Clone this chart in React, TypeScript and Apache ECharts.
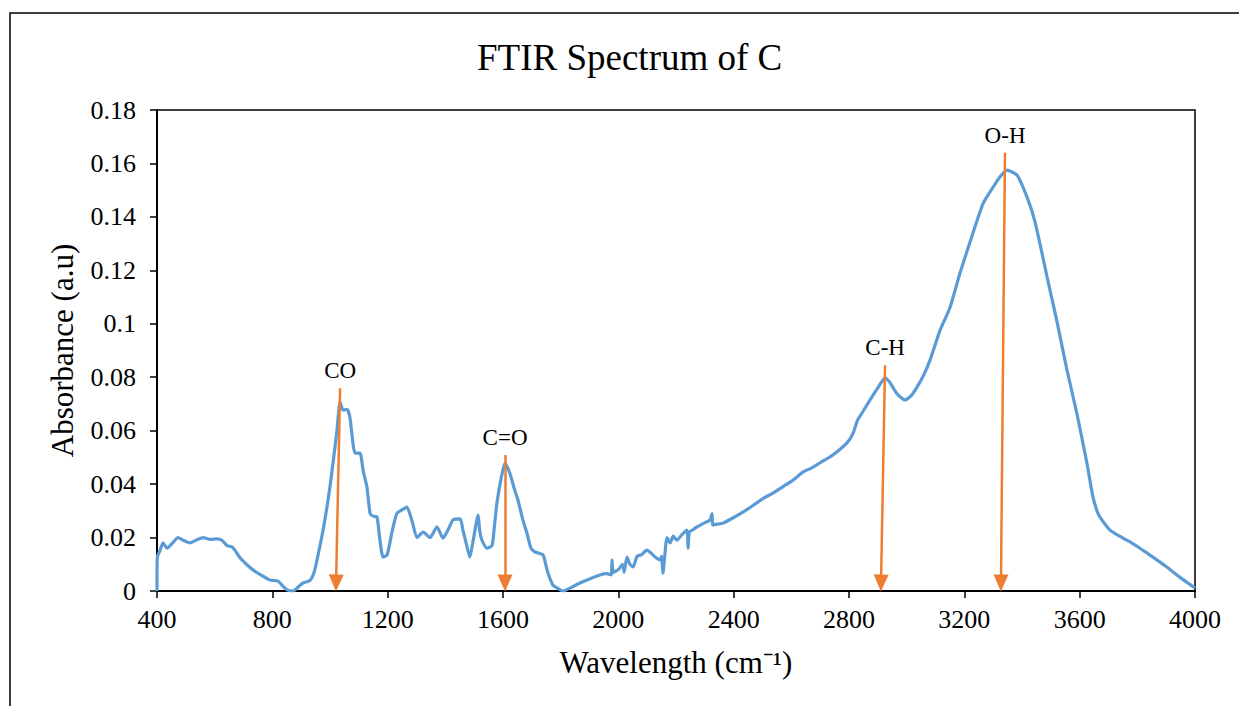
import React, { useEffect, useRef } from "react";
import * as echarts from "echarts";

const wavenumbers = [
  400, 401, 410, 421, 435, 450, 473, 490, 514, 535, 560, 585, 608, 625, 643, 660, 670, 688, 710, 733,
  760, 792, 820, 835, 851, 872, 890, 906, 931, 945, 955, 976, 1000, 1024, 1035, 1045, 1059, 1069, 1080, 1087,
  1104, 1115, 1128, 1139, 1150, 1163, 1172, 1184, 1198, 1215, 1232, 1260, 1267, 1285, 1302, 1323, 1347, 1371, 1392, 1410,
  1427, 1451, 1461, 1472, 1485, 1495, 1503, 1513, 1520, 1527, 1544, 1562, 1570, 1579, 1595, 1607, 1624, 1640, 1652, 1668,
  1683, 1697, 1711, 1739, 1748, 1756, 1773, 1790, 1808, 1830, 1867, 1900, 1936, 1960, 1975, 1978, 1982, 2000, 2015, 2020,
  2030, 2040, 2051, 2065, 2080, 2099, 2115, 2130, 2144, 2150, 2155, 2160, 2169, 2180, 2190, 2203, 2220, 2238, 2242, 2246,
  2260, 2273, 2290, 2318, 2325, 2328, 2345, 2363, 2400, 2432, 2467, 2500, 2536, 2570, 2606, 2640, 2670, 2699, 2744, 2793,
  2814, 2830, 2845, 2873, 2900, 2925, 2942, 2965, 2994, 3015, 3036, 3060, 3081, 3116, 3150, 3185, 3230, 3265, 3299, 3320,
  3348, 3382, 3400, 3417, 3435, 3452, 3487, 3521, 3556, 3590, 3625, 3646, 3660, 3670, 3705, 3750, 3780, 3809, 3854, 3902,
  3947, 3975, 4000,
];

const absorbance = [
  0, 0.0127, 0.015, 0.018, 0.016, 0.0175, 0.02, 0.019, 0.018, 0.019, 0.02, 0.0193, 0.0195, 0.019, 0.017, 0.0165, 0.0153, 0.0124, 0.01, 0.0079,
  0.006, 0.0041, 0.0037, 0.002, 0.0004, 0, 0.0015, 0.003, 0.004, 0.007, 0.0116, 0.0228, 0.039, 0.06, 0.0707, 0.0677, 0.068, 0.065, 0.055, 0.0516,
  0.0516, 0.045, 0.039, 0.029, 0.028, 0.0277, 0.02, 0.0127, 0.0135, 0.022, 0.029, 0.031, 0.0314, 0.026, 0.02, 0.022, 0.02, 0.024, 0.0198, 0.023,
  0.0266, 0.027, 0.0228, 0.018, 0.0127, 0.018, 0.0228, 0.0284, 0.022, 0.019, 0.016, 0.017, 0.024, 0.033, 0.043, 0.0479, 0.044, 0.038, 0.034, 0.027,
  0.0217, 0.016, 0.0146, 0.0135, 0.01, 0.0067, 0.0022, 0.001, 0, 0.001, 0.003, 0.0045, 0.006, 0.0065, 0.006, 0.0116, 0.007, 0.008, 0.01, 0.007,
  0.0127, 0.01, 0.009, 0.013, 0.0135, 0.0153, 0.014, 0.0125, 0.0116, 0.013, 0.0067, 0.012, 0.02, 0.018, 0.0205, 0.019, 0.021, 0.0228, 0.016, 0.022,
  0.023, 0.024, 0.025, 0.0266, 0.029, 0.0247, 0.025, 0.0254, 0.0275, 0.0295, 0.032, 0.0345, 0.0366, 0.039, 0.0415, 0.0445, 0.046, 0.0479, 0.0509, 0.0554,
  0.059, 0.064, 0.0666, 0.0715, 0.076, 0.0797, 0.078, 0.074, 0.0715, 0.073, 0.0763, 0.081, 0.0864, 0.0976, 0.106, 0.119, 0.134, 0.145, 0.151, 0.1545,
  0.1575, 0.1557, 0.152, 0.1475, 0.142, 0.135, 0.1175, 0.101, 0.0827, 0.0666, 0.0479, 0.0352, 0.03, 0.0277, 0.0228, 0.0198, 0.018, 0.016, 0.0127, 0.009,
  0.0052, 0.003, 0.0011,
];

const peakLabels = ["CO", "C=O", "C-H", "O-H"];
const arrowStartX = [1035, 1607, 2925, 3341];
const arrowStartY = [0.0759, 0.0509, 0.0845, 0.164];
const arrowEndX = [1021, 1607, 2911, 3327];
const arrowEndY = [0.003, 0.003, 0.003, 0.003];

const title = "FTIR Spectrum of C";
const xAxisName = "Wavelength (cm\u207B\u00B9)";
const yAxisName = "Absorbance (a.u)";

const FONT = "'Liberation Serif', 'Times New Roman', serif";

export default function App() {
  const ref = useRef<HTMLDivElement>(null);

  useEffect(() => {
    if (!ref.current) return;
    const chart = echarts.init(ref.current, undefined, { renderer: "svg" });
    const data = wavenumbers.map((w, i) => [w, absorbance[i]]);
    const arrows = peakLabels.map((name, i) => [
      { name, coord: [arrowStartX[i], arrowStartY[i]] },
      { coord: [arrowEndX[i], arrowEndY[i]] },
    ]);

    chart.setOption({
      animation: false,
      backgroundColor: "#fff",
      textStyle: { fontFamily: FONT },
      title: {
        text: title,
        left: 472,
        top: 34,
        textStyle: { fontFamily: FONT, fontSize: 37, fontWeight: "normal", color: "#000" },
      },
      graphic: [
        {
          type: "rect",
          shape: { x: 10, y: 13, width: 1400, height: 900 },
          style: { fill: "none", stroke: "#000", lineWidth: 1.5 },
          silent: true,
        },
      ],
      grid: {
        left: 157,
        right: 44,
        top: 110,
        bottom: 115,
        show: true,
        borderColor: "#000",
        borderWidth: 1.5,
        backgroundColor: "transparent",
      },
      xAxis: {
        type: "value",
        min: 400,
        max: 4000,
        interval: 400,
        name: xAxisName,
        nameLocation: "middle",
        nameGap: 56,
        nameTextStyle: { fontFamily: FONT, fontSize: 31, color: "#000" },
        axisLine: { show: true, lineStyle: { color: "#000", width: 2 } },
        axisTick: { show: true, inside: false, length: 7, lineStyle: { color: "#000", width: 1.5 } },
        axisLabel: {
          fontFamily: FONT,
          fontSize: 26,
          color: "#000",
          margin: 15,
          formatter: (v: number) => String(v),
        },
        splitLine: { show: false },
      },
      yAxis: {
        type: "value",
        min: 0,
        max: 0.18,
        interval: 0.02,
        name: yAxisName,
        nameLocation: "middle",
        nameGap: 79,
        nameRotate: 90,
        nameTextStyle: { fontFamily: FONT, fontSize: 31, color: "#000" },
        axisLine: { show: true, lineStyle: { color: "#000", width: 2 } },
        axisTick: { show: true, inside: false, length: 7, lineStyle: { color: "#000", width: 1.5 } },
        axisLabel: {
          fontFamily: FONT,
          fontSize: 26,
          color: "#000",
          margin: 21,
          formatter: (v: number) => String(parseFloat(v.toFixed(2))),
        },
        splitLine: { show: false },
      },
      series: [
        {
          type: "line",
          data,
          showSymbol: false,
          smooth: 0.2,
          lineStyle: { color: "#5B9BD5", width: 3.2 },
          z: 2,
        },
        {
          type: "line",
          data: [],
          z: 3,
          markLine: {
            silent: true,
            symbol: ["none", "triangle"],
            symbolSize: [15, 17],
            lineStyle: { color: "#ED7D31", width: 2.5, type: "solid" },
            label: {
              show: true,
              position: "start",
              formatter: "{b}",
              fontFamily: FONT,
              fontSize: 23,
              color: "#000",
              distance: 6,
            },
            data: arrows,
          },
        },
      ],
    });

    return () => chart.dispose();
  }, []);

  return (
    <div
      ref={ref}
      style={{ position: "absolute", left: 0, top: 0, width: 1239, height: 706, background: "#fff" }}
    />
  );
}
